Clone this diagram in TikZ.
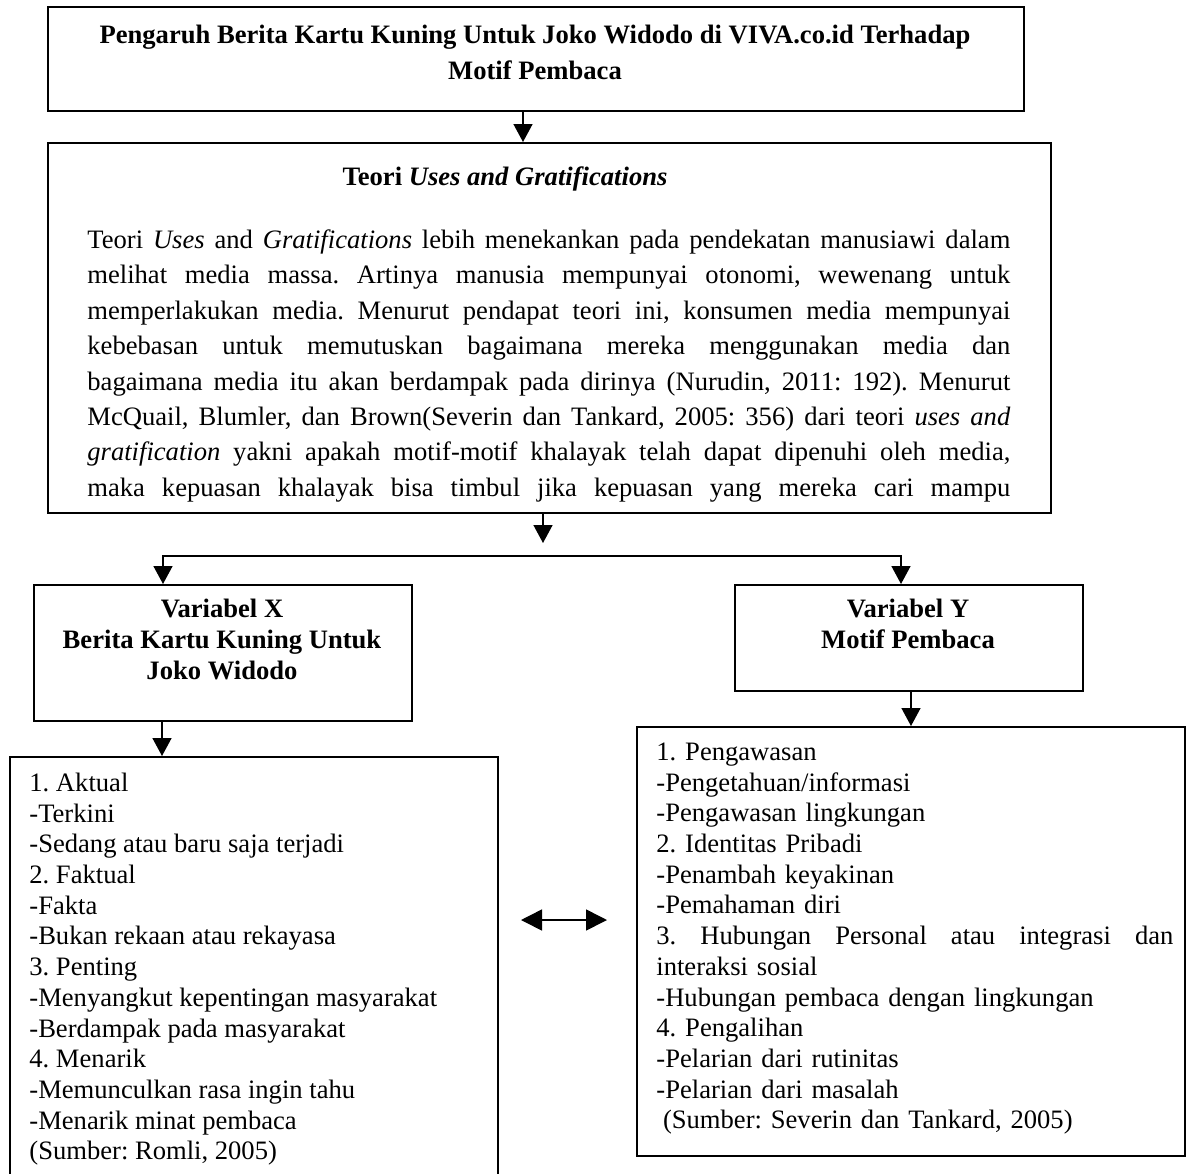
\documentclass[tikz,border=0pt]{standalone}
\usepackage{fontspec}
\setmainfont{Liberation Serif}
\usetikzlibrary{arrows.meta}
\frenchspacing
\newcommand{\tst}{\rule{0pt}{10pt}}
\newcommand{\jl}[2][461.5pt]{{\spaceskip=0.25em plus 2em minus 0.1em\xspaceskip=\spaceskip\makebox[#1][s]{#2}}}
\begin{document}
\begin{tikzpicture}[x=0.5pt,y=-0.5pt,
 box/.style={draw, line width=1pt, inner sep=0pt, anchor=north west},
 txt/.style={inner sep=0pt, font=\fontsize{13.3}{15.35}\selectfont},
 btxt/.style={inner sep=0pt, font=\fontsize{13.3}{18}\selectfont\bfseries},
 arr/.style={line width=0.75pt, -{Triangle[length=9pt,width=9.5pt]}},
 dbl/.style={line width=0.8pt, {Triangle[length=10.5pt,width=10.5pt]}-{Triangle[length=10.5pt,width=10.5pt]}}]
\clip (0,0) rectangle (1189,1173);
\fill[white] (0,0) rectangle (1189,1173);
% boxes
\node[box, minimum width=488pt, minimum height=52pt] (title) at (47,6) {};
\node[box, minimum width=501.5pt, minimum height=185pt] (theory) at (47,142) {};
\node[box, minimum width=189pt, minimum height=68pt] (varx) at (33,584) {};
\node[box, minimum width=174pt, minimum height=53pt] (vary) at (734,584) {};
\node[box, minimum width=244pt, minimum height=217pt] (listx) at (9,756) {};
\node[box, minimum width=274pt, minimum height=214.5pt] (listy) at (636,726) {};
% texts
\node[btxt, align=center, anchor=north] (titletext) at (535,23)
 {\tst Pengaruh Berita Kartu Kuning Untuk Joko Widodo di VIVA.co.id Terhadap\\Motif Pembaca};
\node[btxt, anchor=base] (heading) at (505,185) {Teori \textit{Uses and Gratifications}};
\node[txt, font=\fontsize{13.3}{17.7}\selectfont, text width=461.5pt, align=left, anchor=north west] (body) at (87,228)
 {\tst\jl{Teori \textit{Uses} and \textit{Gratifications} lebih menekankan pada pendekatan manusiawi dalam}\\
  \jl{melihat media massa. Artinya manusia mempunyai otonomi, wewenang untuk}\\
  \jl{memperlakukan media. Menurut pendapat teori ini, konsumen media mempunyai}\\
  \jl{kebebasan untuk memutuskan bagaimana mereka menggunakan media dan}\\
  \jl{bagaimana media itu akan berdampak pada dirinya (Nurudin, 2011: 192). Menurut}\\
  \jl{McQuail, Blumler, dan Brown(Severin dan Tankard, 2005: 356) dari teori \textit{uses and}}\\
  \jl{\textit{gratification} yakni apakah motif-motif khalayak telah dapat dipenuhi oleh media,}\\
  \jl{maka kepuasan khalayak bisa timbul jika kepuasan yang mereka cari mampu}};
\node[btxt, font=\fontsize{13.3}{15.5}\selectfont\bfseries, align=center, anchor=north] (xtext) at (222,597)
 {\tst Variabel X\\Berita Kartu Kuning Untuk\\Joko Widodo};
\node[btxt, font=\fontsize{13.3}{15.5}\selectfont\bfseries, align=center, anchor=north] (ytext) at (908,597)
 {\tst Variabel Y\\Motif Pembaca};
\node[txt, align=left, anchor=north west] (xlist) at (29,771)
 {\tst 1. Aktual\\-Terkini\\-Sedang atau baru saja terjadi\\2. Faktual\\-Fakta\\-Bukan rekaan atau rekayasa\\3. Penting\\-Menyangkut kepentingan masyarakat\\-Berdampak pada masyarakat\\4. Menarik\\-Memunculkan rasa ingin tahu\\-Menarik minat pembaca\\(Sumber: Romli, 2005)};
\node[txt, text width=258.5pt, align=left, anchor=north west] (ylist) at (656,740)
 {\tst 1. Pengawasan\\-Pengetahuan/informasi\\-Pengawasan lingkungan\\2. Identitas Pribadi\\-Penambah keyakinan\\-Pemahaman diri\\\jl[258.5pt]{3. Hubungan Personal atau integrasi dan}\\interaksi sosial\\-Hubungan pembaca dengan lingkungan\\4. Pengalihan\\-Pelarian dari rutinitas\\-Pelarian dari masalah\\\hspace*{3.3pt}(Sumber: Severin dan Tankard, 2005)};
% connectors
\coordinate (ax1) at (523,0);
\draw[arr] (title.south -| ax1) -- (theory.north -| ax1);
\coordinate (th2) at (543,543);
\draw[arr] (theory.south -| th2) -- (th2);
\coordinate (sp) at (543,556);
\coordinate (xl) at (163,556);
\coordinate (yr) at (901,556);
\draw[arr] (sp) -| (varx.north -| xl);
\draw[arr] (sp) -| (vary.north -| yr);
\coordinate (xd) at (162,0);
\draw[arr] (varx.south -| xd) -- (listx.north -| xd);
\coordinate (yd) at (911,0);
\draw[arr] (vary.south -| yd) -- (listy.north -| yd);
\coordinate (dl) at (521,920);
\coordinate (dr) at (607,920);
\draw[dbl] (dl) -- (dr);
\end{tikzpicture}
\end{document}
